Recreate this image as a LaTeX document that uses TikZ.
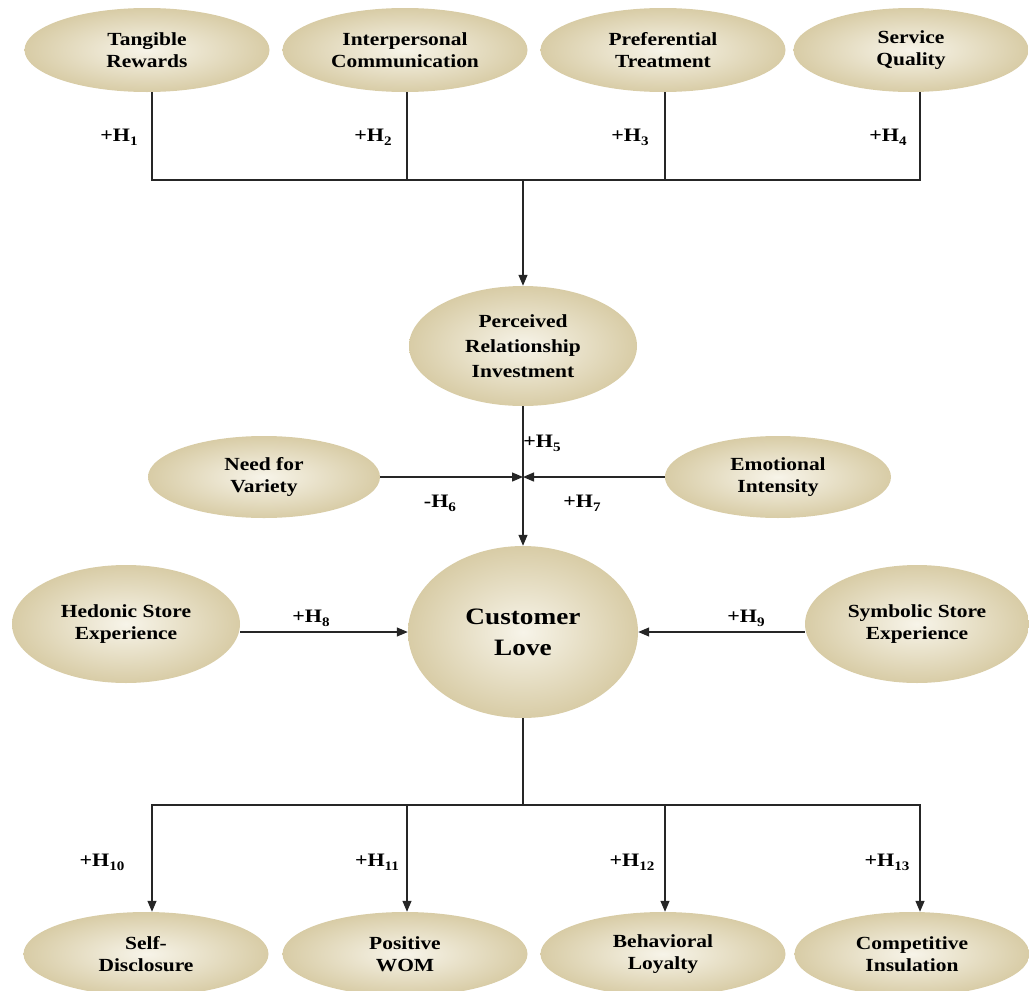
\documentclass[tikz,border=0pt]{standalone}
\usepackage{fontspec}
\setmainfont{Liberation Serif}[FakeStretch=1.16]
\usetikzlibrary{arrows.meta,shapes.geometric}
\newcommand{\hyp}[2]{#1H\raisebox{-4pt}{\fontsize{13}{13}\selectfont #2}}
\begin{document}
\begin{tikzpicture}[x=1pt,y=-1pt,
  construct/.style={ellipse, inner sep=0pt, minimum width=245pt, minimum height=84pt,
    inner color={rgb,255:red,247;green,244;blue,233}, outer color={rgb,255:red,216;green,204;blue,166},
    font=\bfseries\fontsize{18.5}{22}\selectfont, align=center},
  lab/.style={font=\bfseries\fontsize{19}{20}\selectfont, inner sep=1pt},
  conn/.style={line width=1.3pt, black!85},
  arr/.style={conn, -{Triangle[length=11pt,width=9pt]}}]
\useasboundingbox (0,0) rectangle (1029,991);
% top row
\node[construct] (tr) at (147,50) {Tangible\\Rewards};
\node[construct] (ic) at (405,50) {Interpersonal\\Communication};
\node[construct] (pt) at (663,50) {Preferential\\Treatment};
\node[construct, minimum width=235pt] (sq) at (911,50) {Service\\Quality};
% middle
\node[construct, minimum width=228pt, minimum height=120pt, font=\bfseries\fontsize{18.5}{25}\selectfont] (pri) at (523,346) {Perceived\\Relationship\\Investment};
\node[construct, minimum width=232pt, minimum height=82pt] (nfv) at (264,477) {Need for\\Variety};
\node[construct, minimum width=226pt, minimum height=82pt] (ei) at (778,477) {Emotional\\Intensity};
\node[construct, minimum width=230pt, minimum height=172pt, font=\bfseries\fontsize{23.5}{31}\selectfont] (cl) at (523,632) {Customer\\Love};
\node[construct, minimum width=228pt, minimum height=118pt] (hse) at (126,624) {Hedonic Store\\Experience};
\node[construct, minimum width=224pt, minimum height=118pt] (sse) at (917,624) {Symbolic Store\\Experience};
% bottom
\node[construct] (sd) at (146,954) {Self-\\Disclosure};
\node[construct] (wom) at (405,954) {Positive\\WOM};
\node[construct] (bl) at (663,954) {Behavioral\\Loyalty};
\node[construct, minimum width=235pt] (ci) at (912,954) {Competitive\\Insulation};
% coordinates
\coordinate (topbar) at (523,180);
\coordinate (jn) at (523,477);
\coordinate (botbar) at (523,805);
% top connectors
\draw[conn] (tr.south -| 152,0) |- (topbar);
\draw[conn] (ic.south -| 407,0) |- (topbar);
\draw[conn] (pt.south -| 665,0) |- (topbar);
\draw[conn] (sq.south -| 920,0) |- (topbar);
\draw[arr] (topbar) -- (pri.north);
% moderators
\draw[conn] (pri.south) -- (jn);
\draw[arr] (jn) -- (cl.north);
\draw[arr] (nfv.east) -- (jn);
\draw[arr] (ei.west) -- (jn);
% side antecedents
\draw[arr] (hse.east |- cl.west) -- (cl.west);
\draw[arr] (sse.west |- cl.east) -- (cl.east);
% bottom connectors
\draw[conn] (cl.south) -- (botbar);
\draw[arr] (botbar) -| (sd.north -| 152,0);
\draw[arr] (botbar) -| (wom.north -| 407,0);
\draw[arr] (botbar) -| (bl.north -| 665,0);
\draw[arr] (botbar) -| (ci.north -| 920,0);
% labels
\node[lab] (h1) at (119,137) {\hyp{+}{1}};
\node[lab] (h2) at (373,137) {\hyp{+}{2}};
\node[lab] (h3) at (630,137) {\hyp{+}{3}};
\node[lab] (h4) at (888,137) {\hyp{+}{4}};
\node[lab] (h5) at (542,443) {\hyp{+}{5}};
\node[lab] (h6) at (440,503) {\hyp{-}{6}};
\node[lab] (h7) at (582,503) {\hyp{+}{7}};
\node[lab] (h8) at (311,618) {\hyp{+}{8}};
\node[lab] (h9) at (746,618) {\hyp{+}{9}};
\node[lab] (h10) at (102,862) {\hyp{+}{10}};
\node[lab] (h11) at (377,862) {\hyp{+}{11}};
\node[lab] (h12) at (632,862) {\hyp{+}{12}};
\node[lab] (h13) at (887,862) {\hyp{+}{13}};
\end{tikzpicture}
\end{document}
